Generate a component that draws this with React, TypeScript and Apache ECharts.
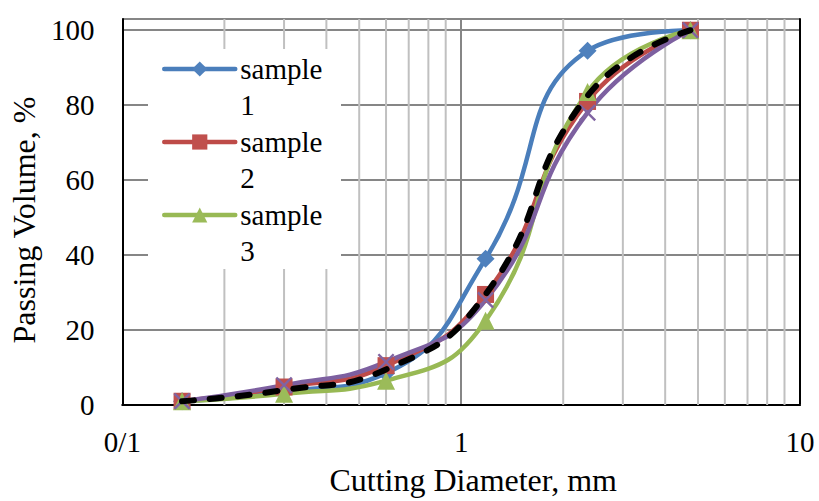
import React, { useEffect, useRef } from "react";
import * as echarts from "echarts";

// Sieve sizes (mm)
const X_VALUES = [0.15, 0.3, 0.6, 1.18, 2.36, 4.75];
const SAMPLE_1 = [1, 3.5, 8.5, 39, 94.5, 100];
const SAMPLE_2 = [1, 4.8, 10.5, 29.5, 81, 100];
const SAMPLE_3 = [1, 3, 6.5, 22.5, 83.5, 100];
const SAMPLE_4 = [1, 5.3, 11.5, 28, 78, 100];
const AVERAGE = [1, 4, 9.5, 29.5, 82.5, 100];
const X_TICK_LABELS = ["0/1", "1", "10"];
const Y_TICKS = [0, 20, 40, 60, 80, 100];
const MINOR_X = [0.2, 0.3, 0.4, 0.5, 0.6, 0.7, 0.8, 0.9, 2, 3, 4, 5, 6, 7, 8, 9];
const SERIES_NAMES = ["sample 1", "sample 2", "sample 3", "sample 4", "average"];

const FONT = "'Liberation Serif', 'Times New Roman', serif";
const CROSS =
  "path://M2,0 L10,8 L18,0 L20,2 L12,10 L20,18 L18,20 L10,12 L2,20 L0,18 L8,10 L0,2 Z";

const pts = (ys: number[]) => X_VALUES.map((x, i) => [x, ys[i]]);

export default function App() {
  const ref = useRef<HTMLDivElement>(null);

  useEffect(() => {
    if (!ref.current) return;
    const chart = echarts.init(ref.current, null, { renderer: "svg" });

    const lineSeries = (
      name: string,
      ys: number[],
      color: string,
      fill: string,
      symbol: string,
      size: number
    ) => ({
      name,
      type: "line",
      data: pts(ys),
      smooth: 0.5,
      symbol,
      symbolSize: size,
      showSymbol: true,
      lineStyle: { color, width: 4.5, cap: "round" },
      itemStyle: { color: fill },
      z: 2,
    });

    chart.setOption({
      animation: false,
      backgroundColor: "#fff",
      grid: { left: 120, right: 19, top: 19, bottom: 88, containLabel: false },
      legend: {
        data: SERIES_NAMES.slice(0, 3),
        orient: "vertical",
        left: 162,
        top: 15,
        padding: 0,
        itemGap: -35,
        itemWidth: 71,
        itemHeight: 19,
        selectedMode: false,
        z: 4,
        lineStyle: { width: 4.5, cap: "round" },
        formatter: (name: string) => {
          const [word, num] = name.split(" ");
          return `{pad| }\n{t|${word}}\n{t|${num}}`;
        },
        textStyle: {
          fontFamily: FONT,
          fontSize: 29,
          color: "#000",
          lineHeight: 36,
          rich: {
            pad: { fontFamily: FONT, fontSize: 29, lineHeight: 36 },
            t: { fontFamily: FONT, fontSize: 29, lineHeight: 36, color: "#000" },
          },
        },
      },
      graphic: [
        {
          type: "rect",
          z: 3,
          shape: { x: 148, y: 49, width: 193, height: 220 },
          style: { fill: "#fff" },
        },
      ],
      xAxis: [
        {
          type: "log",
          logBase: 10,
          min: 0.1,
          max: 10,
          position: "bottom",
          axisLine: { show: true, lineStyle: { color: "#868686", width: 2 } },
          axisTick: { show: false },
          axisLabel: {
            fontFamily: FONT,
            fontSize: 29,
            color: "#000",
            margin: 22,
            formatter: (_v: number, idx: number) => X_TICK_LABELS[idx] ?? "",
          },
          splitLine: { show: true, lineStyle: { color: "#868686", width: 2 } },
          name: "Cutting Diameter, mm",
          nameLocation: "middle",
          nameGap: 59,
          nameTextStyle: {
            fontFamily: FONT,
            fontSize: 32,
            color: "#000",
            padding: [0, 0, 0, 24],
          },
        },
        {
          type: "log",
          logBase: 10,
          min: 0.1,
          max: 10,
          position: "top",
          axisLine: { show: true, lineStyle: { color: "#000", width: 2 } },
          axisTick: { show: false },
          axisLabel: { show: false },
          splitLine: { show: false },
        },
      ],
      yAxis: [
        {
          type: "value",
          min: 0,
          max: 103,
          interval: 20,
          position: "left",
          axisLine: { show: true, lineStyle: { color: "#000", width: 2 } },
          axisTick: { show: false },
          axisLabel: {
            fontFamily: FONT,
            fontSize: 29,
            color: "#000",
            margin: 28,
            formatter: (v: number) => (Y_TICKS.indexOf(v) >= 0 ? String(v) : ""),
          },
          splitLine: { show: true, lineStyle: { color: "#868686", width: 2 } },
          name: "Passing Volume, %",
          nameLocation: "middle",
          nameGap: 76,
          nameTextStyle: {
            fontFamily: FONT,
            fontSize: 32,
            color: "#000",
            padding: [0, 16, 0, 0],
          },
        },
        {
          type: "value",
          min: 0,
          max: 103,
          interval: 20,
          position: "right",
          axisLine: { show: true, lineStyle: { color: "#000", width: 2 } },
          axisTick: { show: false },
          axisLabel: { show: false },
          splitLine: { show: false },
        },
      ],
      series: [
        {
          name: "minor grid",
          type: "custom",
          z: 1,
          silent: true,
          data: MINOR_X.map((x) => [x, 0]),
          encode: { x: 0, y: 1 },
          renderItem: (_params: any, api: any) => {
            const x = api.value(0);
            const p0 = api.coord([x, 0]);
            const p1 = api.coord([x, 103]);
            return {
              type: "line",
              shape: { x1: p0[0], y1: p0[1], x2: p1[0], y2: p1[1] },
              style: { stroke: "#c0c0c0", lineWidth: 2 },
            };
          },
        },
        lineSeries(SERIES_NAMES[0], SAMPLE_1, "#4A7EBB", "#4F81BD", "diamond", 18),
        lineSeries(SERIES_NAMES[1], SAMPLE_2, "#BE4B48", "#C0504D", "rect", 17),
        lineSeries(SERIES_NAMES[2], SAMPLE_3, "#98B954", "#9BBB59", "triangle", 18),
        lineSeries(SERIES_NAMES[3], SAMPLE_4, "#7D60A0", "#8064A2", CROSS, 17),
        {
          name: SERIES_NAMES[4],
          type: "line",
          data: pts(AVERAGE),
          smooth: 0.5,
          symbol: "none",
          lineStyle: { color: "#000", width: 6, type: [12, 16], cap: "round" },
          itemStyle: { color: "#000" },
          z: 3,
        },
      ],
    });

    return () => chart.dispose();
  }, []);

  return (
    <div
      ref={ref}
      style={{ position: "fixed", left: 0, top: 0, width: 819, height: 501 }}
    />
  );
}
